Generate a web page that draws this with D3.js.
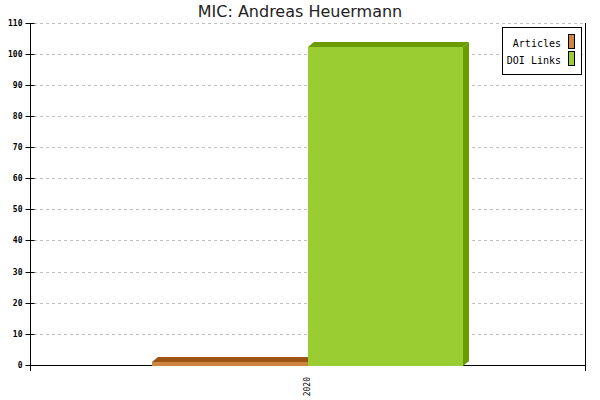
<!DOCTYPE html>
<html>
<head>
<meta charset="utf-8">
<script src="https://cdn.jsdelivr.net/npm/d3@7"></script>
<style>
  body { margin: 0; background: #fff; }
</style>
</head>
<body>
<div id="chart"></div>
<script>
// chart data
const categories = ["2020"];
const seriesNames = ["Articles", "DOI Links"];
const articles = [1];
const doiLinks = [102];
const yTicks = [0, 10, 20, 30, 40, 50, 60, 70, 80, 90, 100, 110];

const seriesColors = {
    "Articles": {front: "#cd853f", dark: "#9c5414"},
    "DOI Links": {front: "#9acd32", dark: "#6a9c00"}
};

document.addEventListener("DOMContentLoaded", function() {

    const width = 600, height = 400;
    const left = 30, right = 585, top = 22.5, bottom = 365;
    const depthX = 6, depthY = 5;

    const svg = d3.select("#chart")
        .append("svg")
        .attr("width", width)
        .attr("height", height);

    // scales
    const y = d3.scaleLinear().domain([0, 110]).range([bottom, top]);
    const x0 = d3.scaleBand().domain(categories).range([left, right]);
    const x1 = d3.scaleBand().domain(seriesNames)
        .range([0, x0.bandwidth()])
        .paddingInner(0)
        .paddingOuter(0.785);

    // title
    svg.append("text")
        .attr("x", width / 2)
        .attr("y", 17)
        .attr("text-anchor", "middle")
        .style("font-family", "DejaVu Sans")
        .style("font-size", "16px")
        .style("fill", "#222")
        .text("MIC: Andreas Heuermann");

    // dashed grid lines
    svg.append("g")
        .selectAll("line")
        .data(yTicks.filter(d => d > 0))
        .enter().append("line")
        .attr("x1", left + 4)
        .attr("x2", right)
        .attr("y1", d => Math.round(y(d)) + 0.5)
        .attr("y2", d => Math.round(y(d)) + 0.5)
        .attr("stroke", "#c0c0c0")
        .attr("stroke-dasharray", "3,3");

    // y axis, ticks cross the line
    const yAxis = svg.append("g")
        .attr("transform", `translate(${left + 0.5},0.5)`)
        .call(d3.axisLeft(y).tickValues(yTicks).tickSize(5).tickSizeOuter(0).tickPadding(3));
    yAxis.select(".domain").remove();
    yAxis.selectAll(".tick")
        .attr("transform", d => `translate(0,${Math.round(y(d))})`);
    yAxis.selectAll(".tick line")
        .attr("x1", 4).attr("x2", -5)
        .attr("stroke", "#000");
    yAxis.selectAll(".tick text")
        .attr("x", -8)
        .style("font-family", "DejaVu Sans Mono")
        .style("font-weight", "bold")
        .style("font-size", "8px")
        .style("fill", "#000");

    // axis frame lines
    const frame = svg.append("g")
        .attr("stroke", "#000")
        .attr("stroke-width", 1)
        .attr("shape-rendering", "crispEdges");
    frame.append("line")
        .attr("x1", left + 0.5).attr("x2", left + 0.5)
        .attr("y1", top).attr("y2", bottom + 6);
    frame.append("line")
        .attr("x1", right + 0.5).attr("x2", right + 0.5)
        .attr("y1", top).attr("y2", bottom + 6);
    frame.append("line")
        .attr("x1", left).attr("x2", right)
        .attr("y1", bottom + 0.5).attr("y2", bottom + 0.5);

    // category labels, rotated
    svg.append("g")
        .selectAll("text")
        .data(categories)
        .enter().append("text")
        .attr("transform", d => `translate(${x0(d) + x0.bandwidth() / 2},377) rotate(-90)`)
        .attr("dy", "0.35em")
        .attr("text-anchor", "end")
        .style("font-family", "DejaVu Sans Mono")
        .style("font-size", "8px")
        .text(d => d);

    // 3d bars
    const barData = [];
    categories.forEach((c, i) => {
        barData.push({cat: c, name: "Articles", value: articles[i]});
        barData.push({cat: c, name: "DOI Links", value: doiLinks[i]});
    });

    const bars = svg.append("g")
        .selectAll("g")
        .data(barData)
        .enter().append("g");

    bars.each(function(d) {
        const g = d3.select(this);
        const xl = Math.round(x0(d.cat) + x1(d.name));
        const xr = Math.round(x0(d.cat) + x1(d.name) + x1.bandwidth());
        const yt = Math.round(y(d.value));
        const yb = bottom + 1;
        const col = seriesColors[d.name];

        // top face
        g.append("path")
            .attr("d", `M${xl},${yt}L${xl + depthX},${yt - depthY}L${xr + depthX},${yt - depthY}L${xr},${yt}Z`)
            .attr("fill", col.dark);
        // side face
        g.append("path")
            .attr("d", `M${xr},${yt}L${xr + depthX},${yt - depthY}L${xr + depthX},${yb - depthY}L${xr},${yb}Z`)
            .attr("fill", col.dark);
        // front
        g.append("rect")
            .attr("x", xl)
            .attr("y", yt)
            .attr("width", xr - xl)
            .attr("height", yb - yt)
            .attr("fill", col.front);
    });

    // legend
    const legend = svg.append("g");
    legend.append("rect")
        .attr("x", 502.5).attr("y", 27.5)
        .attr("width", 79).attr("height", 47)
        .attr("fill", "#fff")
        .attr("stroke", "#000");

    const items = legend.selectAll("g.item")
        .data(seriesNames)
        .enter().append("g")
        .attr("class", "item")
        .attr("transform", (d, i) => `translate(0,${i * 17})`);
    items.append("text")
        .attr("x", 561)
        .attr("y", 46.5)
        .attr("text-anchor", "end")
        .style("font-family", "DejaVu Sans Mono")
        .style("font-size", "10px")
        .text(d => d);
    items.append("rect")
        .attr("x", 568.5).attr("y", 34.5)
        .attr("width", 6).attr("height", 14)
        .attr("fill", d => seriesColors[d].front)
        .attr("stroke", "#000");
});
</script>
</body>
</html>
